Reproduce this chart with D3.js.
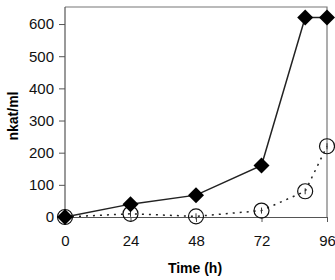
<!DOCTYPE html>
<html>
<head>
<meta charset="utf-8">
<script src="https://cdn.jsdelivr.net/npm/d3@7"></script>
<style>
body { margin: 0; background: #fff; }
text { font-family: "Liberation Sans", Arial, sans-serif; }
</style>
</head>
<body>
<div id="chart"></div>
<script>
// data
var hours = [0, 24, 48, 72, 88, 96];
var filled = [0, 40, 68, 160, 620, 620];
var open = [0, 10, 2, 20, 80, 220];
var xTicks = [0, 24, 48, 72, 96];
var yTicks = [0, 100, 200, 300, 400, 500, 600];

var width = 335, height = 280;
var margin = { top: 7, right: 8, bottom: 63, left: 65 };

var svg = d3.select("#chart").append("svg")
    .attr("width", width)
    .attr("height", height);

var x = d3.scaleLinear().domain([0, 96]).range([margin.left, width - margin.right]);
var y = d3.scaleLinear().domain([0, 653]).range([height - margin.bottom, margin.top]);

// frame (top and right)
svg.append("path")
    .attr("d", "M" + x(0) + "," + y(653) + "H" + x(96) + "V" + y(0))
    .attr("fill", "none")
    .attr("stroke", "#777")
    .attr("stroke-width", 1.2);

// y axis
var yAxis = svg.append("g")
    .attr("transform", "translate(" + x(0) + ",0)")
    .call(d3.axisLeft(y).tickValues(yTicks).tickSize(6).tickPadding(5).tickSizeOuter(0));
yAxis.select(".domain").attr("stroke", "#555").attr("stroke-width", 1.2)
    .attr("d", "M0," + y(653) + "V" + y(0));
yAxis.selectAll(".tick line").attr("stroke", "#555");
yAxis.selectAll("text").attr("font-size", 15).attr("fill", "#111")
    .attr("font-family", "Liberation Sans, Arial, sans-serif");

// x axis
var xAxis = svg.append("g")
    .attr("transform", "translate(0," + y(0) + ")")
    .call(d3.axisBottom(x).tickValues(xTicks).tickSize(5).tickPadding(13).tickSizeOuter(0));
xAxis.select(".domain").attr("stroke", "#555").attr("stroke-width", 1.2);
xAxis.selectAll(".tick line").attr("stroke", "#555");
xAxis.selectAll("text").attr("font-size", 15).attr("fill", "#111")
    .attr("font-family", "Liberation Sans, Arial, sans-serif");

// axis titles
svg.append("text")
    .attr("x", 195).attr("y", 273)
    .attr("text-anchor", "middle")
    .attr("font-size", 14).attr("font-weight", "bold")
    .text("Time (h)");

svg.append("text")
    .attr("transform", "translate(18,116) rotate(-90)")
    .attr("text-anchor", "middle")
    .attr("font-size", 14).attr("font-weight", "bold")
    .text("nkat/ml");

var line = d3.line()
    .x(function (d, i) { return x(hours[i]); })
    .y(function (d) { return y(d); });

// open circles, dotted
svg.append("path")
    .datum(open)
    .attr("d", line)
    .attr("fill", "none")
    .attr("stroke", "#222")
    .attr("stroke-width", 1.5)
    .attr("stroke-dasharray", "2,5");

svg.selectAll(".err")
    .data(open)
    .enter()
    .append("line")
    .attr("x1", function (d, i) { return x(hours[i]); })
    .attr("x2", function (d, i) { return x(hours[i]); })
    .attr("y1", function (d) { return y(d) - 3; })
    .attr("y2", function (d) { return y(d) + 3; })
    .attr("stroke", "#333");

svg.selectAll(".circ")
    .data(open)
    .enter()
    .append("circle")
    .attr("cx", function (d, i) { return x(hours[i]); })
    .attr("cy", function (d) { return y(d); })
    .attr("r", 7.5)
    .attr("fill", "none")
    .attr("stroke", "#111")
    .attr("stroke-width", 1.2);

// filled diamonds, solid
svg.append("path")
    .datum(filled)
    .attr("d", line)
    .attr("fill", "none")
    .attr("stroke", "#222")
    .attr("stroke-width", 1.5);

svg.selectAll(".dia")
    .data(filled)
    .enter()
    .append("path")
    .attr("transform", function (d, i) { return "translate(" + x(hours[i]) + "," + y(d) + ")"; })
    .attr("d", "M0,-8L8,0L0,8L-8,0Z")
    .attr("fill", "#000");
</script>
</body>
</html>
